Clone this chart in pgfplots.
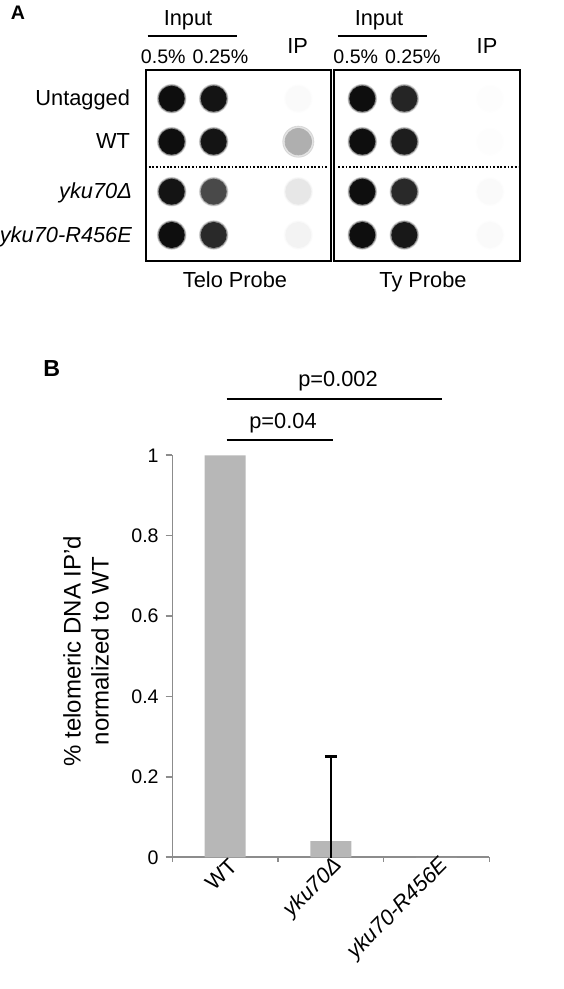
\documentclass[border=0pt]{standalone}
\usepackage{pgfplots}
\pgfplotsset{compat=1.18}
\usepackage{fontspec}
\setmainfont{Liberation Sans}
\definecolor{barcol}{RGB}{183,183,183}
\definecolor{axcol}{RGB}{140,140,140}
\pgfplotstableread{
x y v
171.7 98.7 1
213.7 98.7 0.97
298.3 98.7 0.02
171.7 141.7 1
213.7 141.7 0.97
171.7 191.7 0.97
213.7 191.7 0.75
298.3 191.7 0.1
171.7 235 1
213.7 235 0.88
298.3 235 0.05
362.3 98.7 1
404.3 98.7 0.9
490 98.7 0.01
362.3 141.7 1
404.3 141.7 0.93
490 141.7 0.01
362.3 191.7 1
404.3 191.7 0.88
490 191.7 0.02
362.3 235 1
404.3 235 0.95
490 235 0.02
}\dots
\pgfplotstableread{
x y v
298.3 141.7 0.33
}\wtip
\begin{document}
\begin{tikzpicture}[font=\fontsize{10.9}{13}\selectfont]
\begin{axis}[name=canvas, at={(0,0)}, anchor=south west,
  width=281.5pt, height=494.5pt, scale only axis,
  xmin=0, xmax=563, ymin=0, ymax=989, y dir=reverse,
  hide axis, clip=false,
  colormap={blot}{rgb255=(255,255,255) rgb255=(14,14,14)},
  point meta min=0, point meta max=1]
% soft halos of the dots
\addplot[scatter, only marks, mark=*, mark size=7.2pt, opacity=0.12,
  scatter/use mapped color={draw=mapped color, fill=mapped color},
  point meta=explicit] table[meta=v] {\dots};
\addplot[scatter, only marks, mark=*, mark size=6.8pt, opacity=0.3,
  scatter/use mapped color={draw=mapped color, fill=mapped color},
  point meta=explicit] table[meta=v] {\dots};
% dots
\addplot[scatter, only marks, mark=*, mark size=6.3pt,
  scatter/use mapped color={draw=mapped color, fill=mapped color},
  point meta=explicit] table[meta=v] {\dots};
% WT IP dot (larger, fuzzy)
\addplot[scatter, only marks, mark=*, mark size=7.8pt, opacity=0.35,
  scatter/use mapped color={draw=mapped color, fill=mapped color},
  point meta=explicit] table[meta=v] {\wtip};
\addplot[scatter, only marks, mark=*, mark size=6.6pt,
  scatter/use mapped color={draw=mapped color, fill=mapped color},
  point meta=explicit] table[meta=v] {\wtip};
% panel A frames and text
\draw[line width=1pt] (axis cs:145.7,70) rectangle (axis cs:330.7,261);
\draw[line width=1pt] (axis cs:334.3,70) rectangle (axis cs:520,261);
\draw[line width=0.9pt, dash pattern=on 0.9pt off 0.9pt] (axis cs:148.7,167.3) -- (axis cs:328.3,167.3);
\draw[line width=0.9pt, dash pattern=on 0.9pt off 0.9pt] (axis cs:338.3,167.3) -- (axis cs:518.3,167.3);
\node[anchor=base, font=\bfseries\fontsize{9.8}{12}\selectfont] at (axis cs:18,20) {A};
\node[anchor=base] at (axis cs:188,26) {Input};
\node[anchor=base] at (axis cs:379,26) {Input};
\draw[line width=1pt] (axis cs:147.7,35.7) -- (axis cs:236.7,35.7);
\draw[line width=1pt] (axis cs:337.7,35.7) -- (axis cs:426.7,35.7);
\begin{scope}[every node/.style={anchor=base, font=\fontsize{9.8}{12}\selectfont}]
\node at (axis cs:163.3,63.3) {0.5\%};
\node at (axis cs:220.5,63.3) {0.25\%};
\node at (axis cs:355.8,63.3) {0.5\%};
\node at (axis cs:412.8,63.3) {0.25\%};
\end{scope}
\node[anchor=base] at (axis cs:297.7,54) {IP};
\node[anchor=base] at (axis cs:487,54) {IP};
\node[anchor=base east] at (axis cs:137,106) {Untagged};
\node[anchor=base east] at (axis cs:137,148.3) {WT};
\node[anchor=base east] at (axis cs:139,198.3) {\itshape yku70Δ};
\node[anchor=base east] at (axis cs:139,242.7) {\itshape yku70-R456E};
\node[anchor=base] at (axis cs:235,287.3) {Telo Probe};
\node[anchor=base] at (axis cs:423,287.3) {Ty Probe};
% panel B annotations
\node[anchor=base, font=\bfseries\fontsize{11.6}{13}\selectfont] at (axis cs:51.7,376.7) {B};
\node[anchor=base] at (axis cs:338,386.7) {p=0.002};
\draw[line width=1pt] (axis cs:226.7,399) -- (axis cs:442.3,399);
\node[anchor=base] at (axis cs:283,428.3) {p=0.04};
\draw[line width=1pt] (axis cs:226.7,439.7) -- (axis cs:332.7,439.7);
\node[rotate=90, align=center, font=\fontsize{12}{14}\selectfont] at (axis cs:86,651) {\% telomeric DNA IP’d\\normalized to WT};
\end{axis}
% panel B bar chart
\begin{axis}[at={(86.15pt,65.85pt)}, anchor=south west,
  width=158.5pt, height=201pt, scale only axis,
  xmin=-0.5, xmax=2.5, ymin=0, ymax=1,
  axis lines*=left,
  axis line style={draw=axcol, line width=0.8pt},
  every tick/.style={draw=axcol, line width=0.8pt},
  tick align=outside,
  ytick={0,0.2,0.4,0.6,0.8,1},
  major tick length=3.3pt, minor tick length=2.3pt,
  xtick={0,1,2},
  xticklabels={WT, \itshape yku70Δ, \itshape yku70-R456E},
  x tick style={draw=none},
  minor xtick={-0.5,0.5,1.5,2.5},
  minor x tick style={draw=axcol, line width=0.8pt},
  xticklabel style={rotate=45, anchor=east, xshift=7pt, yshift=-2.5pt, font=\fontsize{10.9}{12}\selectfont},
  yticklabel style={font=\fontsize{9.8}{12}\selectfont},
  /pgf/number format/assume math mode=true,
  clip=true]
\addplot[ybar, bar width=20.5pt, fill=barcol, draw=none] coordinates {(0,1) (1,0.04) (2,0)};
\addplot[draw=none, mark=none, forget plot,
  error bars/.cd, y dir=both, y explicit,
  error bar style={draw=black, solid, line width=1.3pt},
  error mark options={draw=black, solid, rotate=90, mark size=3pt, line width=1.3pt}]
  coordinates {(1,0.04) +- (0,0.21)};
\end{axis}
\pgfresetboundingbox
\path (0,0) rectangle (281.5pt,494.5pt);
\end{tikzpicture}
\end{document}
